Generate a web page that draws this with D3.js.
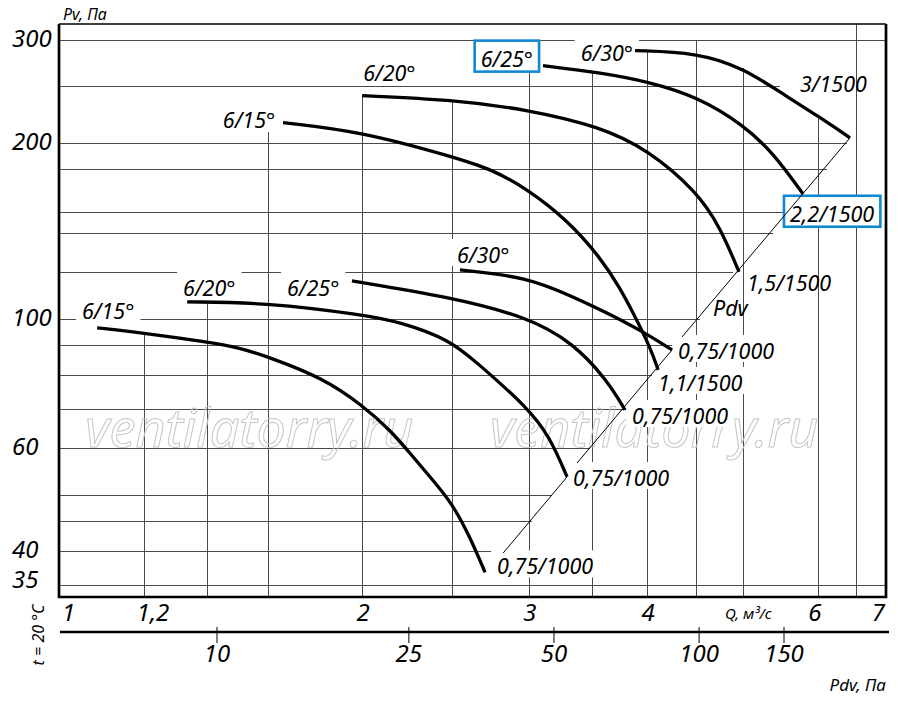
<!DOCTYPE html>
<html>
<head>
<meta charset="utf-8">
<script src="https://cdn.jsdelivr.net/npm/d3@7"></script>
<style>
  html, body { margin: 0; padding: 0; background: #fff; }
  svg text { font-family: "Noto Sans", sans-serif; font-style: italic; fill: #000; }
</style>
</head>
<body>
<div id="chart"></div>
<script>
// axis ticks
const qTicks = [1, 1.2, 2, 3, 4, 6, 7];
const qTickLabels = ["1", "1,2", "2", "3", "4", "6", "7"];
const pvTicks = [300, 200, 100, 60, 40, 35];
const pdvTicks = [10, 25, 50, 100, 150];

// grid: horizontal lines (Pv) and where they stop (Q); vertical lines (Q) and where they start (Pv)
const pvGrid = [300, 250, 200, 180, 152, 140, 120, 100, 90, 80, 70, 60, 50, 45, 40, 35];
const pvGridEnd = [7.15, 5.53, 6.5, 6.19, 5.62, 5.43, 4.93, 4.55, 4.26, 4.05, 3.81, 3.48, 3.17, 3.02, 2.74, 7.15];
const qGrid = [1.177, 1.372, 1.59, 2, 2.49, 3, 3.5, 4, 4.5, 5.05, 6.06, 6.64];
const qGridTop = [94.5, 106.8, 208.7, 240.6, 236.8, 265, 263.4, 287, 300, 268.6, 223, 319];

// fan curves, [Q m3/s, Pv Pa]
const fan1500_15 = [[1.65, 216.3], [2.0, 208.7], [2.489, 189.2], [2.75, 179.7], [2.994, 166.1], [3.292, 147.5], [3.566, 127.5], [3.744, 112.8], [3.865, 102.3], [4.029, 89.4], [4.108, 81.7]];
const fan1500_20 = [[2.0, 240.6], [2.489, 236.8], [2.994, 227.7], [3.566, 212.9], [4.009, 194.4], [4.516, 164.7], [4.775, 143.5], [5.001, 120.2]];
const fan1500_25 = [[3.105, 270.8], [3.566, 263.4], [4.009, 254.2], [4.516, 239.6], [5.05, 214.6], [5.433, 192.2], [5.843, 163.4]];
const fan1500_30 = [[3.884, 287.3], [4.516, 285.0], [5.05, 268.6], [5.62, 239.6], [6.06, 222.0], [6.551, 203.8]];
const fan1000_15 = [[1.05, 96.4], [1.174, 94.5], [1.372, 91.2], [1.486, 89.1], [1.591, 86.0], [1.819, 79.1], [2.0, 71.1], [2.141, 64.5], [2.264, 58.0], [2.376, 52.9], [2.489, 48.3], [2.6, 42.3], [2.697, 36.8]];
const fan1000_20 = [[1.307, 106.8], [1.591, 106.4], [2.0, 101.5], [2.193, 98.7], [2.477, 91.9], [2.645, 84.0], [2.987, 70.6], [3.159, 62.7], [3.292, 53.6]];
const fan1000_25 = [[1.951, 116.0], [2.477, 108.9], [2.987, 100.7], [3.341, 90.9], [3.628, 78.5], [3.79, 69.8]];
const fan1000_30 = [[2.537, 121.1], [2.987, 117.8], [3.341, 108.9], [3.628, 102.3], [3.931, 95.6], [4.25, 88.4]];
const fanCurves = [fan1500_15, fan1500_20, fan1500_25, fan1500_30, fan1000_15, fan1000_20, fan1000_25, fan1000_30];

// dynamic pressure line, drawn in pieces
const pdvSegments = [
  [[6.551, 203.8], [4.354, 93.0]],
  [[4.25, 88.4], [3.373, 56.6]],
  [[3.292, 53.6], [2.818, 39.7]],
];

// curve labels
const labelText = ["6/15°", "6/20°", "6/25°", "6/30°", "3/1500", "2,2/1500", "1,5/1500", "Pdv", "0,75/1000", "1,1/1500", "0,75/1000", "0,75/1000", "0,75/1000", "6/15°", "6/20°", "6/25°", "6/30°"];
const labelQ = [1.619, 2.005, 3.031, 3.865, 5.801, 5.661, 5.099, 4.694, 4.312, 4.108, 3.856, 3.341, 2.777, 1.012, 1.294, 1.666, 2.519];
const labelPv = [212.0, 255.2, 269.7, 276.1, 244.4, 146.4, 111.5, 101.1, 85.3, 75.2, 66.0, 51.7, 36.5, 99.8, 109.4, 109.4, 124.5];
const labelAnchor = ["end", "start", "end", "end", "start", "start", "start", "start", "start", "start", "start", "start", "start", "start", "start", "start", "start"];
const labelKind = ["bg", "bg", "box", "bg", "", "box", "", "", "bg", "bg", "bg", "bg", "bg", "bg", "bg", "bg", "bg"];

// watermark anchors
const watermarkQ = [1.02, 2.73];
const watermarkPv = 60.3;

const width = 900;
const height = 704;
const plot = { left: 59, right: 886, top: 24, bottom: 597 };

const svg = d3.select("#chart").append("svg").attr("width", width).attr("height", height);
svg.append("rect").attr("width", width).attr("height", height).attr("fill", "#fff");

const x = d3.scaleLog().domain([0.957, 7.15]).range([plot.left, plot.right]);
const y = d3.scaleLog().domain([33.4, 319]).range([plot.bottom, plot.top]);
const xPdv = d3.scaleLog().domain([10, 150]).range([217, 784]);

// grid
const grid = svg.append("g").attr("stroke", "#4a4a4a").attr("stroke-width", 1).attr("shape-rendering", "crispEdges");
grid.selectAll("line.h")
  .data(pvGrid)
  .join("line")
  .attr("class", "h")
  .attr("x1", plot.left)
  .attr("x2", (d, i) => Math.min(x(pvGridEnd[i]), plot.right))
  .attr("y1", (d) => Math.round(y(d)) + 0.5)
  .attr("y2", (d) => Math.round(y(d)) + 0.5);
grid.selectAll("line.v")
  .data(qGrid)
  .join("line")
  .attr("class", "v")
  .attr("x1", (d) => Math.round(x(d)) + 0.5)
  .attr("x2", (d) => Math.round(x(d)) + 0.5)
  .attr("y1", plot.bottom)
  .attr("y2", (d, i) => Math.max(y(qGridTop[i]), plot.top));

// watermark
svg.selectAll("text.wm")
  .data(watermarkQ)
  .join("text")
  .attr("class", "wm")
  .attr("x", (d) => x(d))
  .attr("y", y(watermarkPv))
  .attr("font-size", 52)
  .style("fill", "none")
  .attr("stroke", "#c6c6c6")
  .attr("stroke-width", 1)
  .text("ventilatorry.ru");

// frame
svg.append("path")
  .attr("d", `M${plot.left},${plot.top}H${plot.right}`)
  .attr("stroke", "#000").attr("stroke-width", 1.6);
svg.append("path")
  .attr("d", `M${plot.left},${plot.top}V${plot.bottom}H${plot.right}V${plot.top}`)
  .attr("fill", "none").attr("stroke", "#000").attr("stroke-width", 2.7);

// curve labels
const labels = svg.append("g").attr("font-size", 21.5);
labelText.forEach((t, i) => {
  const g = labels.append("g");
  const bgRect = g.append("rect");
  const tx = g.append("text")
    .attr("x", x(labelQ[i]))
    .attr("y", y(labelPv[i]))
    .attr("text-anchor", labelAnchor[i])
    .text(t);
  const bb = tx.node().getBBox();
  const base = y(labelPv[i]);
  if (labelKind[i] === "bg") {
    bgRect.attr("x", bb.x - 6).attr("y", base - 24).attr("width", bb.width + 12).attr("height", 27).attr("fill", "#fff");
  } else if (labelKind[i] === "box") {
    bgRect.attr("x", bb.x - 6).attr("y", base - 26).attr("width", bb.width + 12).attr("height", 31)
      .attr("fill", "#fff").attr("stroke", "#1089d3").attr("stroke-width", 2.6);
  } else {
    bgRect.remove();
  }
});

// Pdv line
const seg = d3.line().x((d) => x(d[0])).y((d) => y(d[1]));
svg.append("g")
  .selectAll("path")
  .data(pdvSegments)
  .join("path")
  .attr("d", seg)
  .attr("fill", "none")
  .attr("stroke", "#000")
  .attr("stroke-width", 1);

// fan curves
const curveLine = d3.line().x((d) => x(d[0])).y((d) => y(d[1])).curve(d3.curveBasis);
svg.append("g")
  .selectAll("path")
  .data(fanCurves)
  .join("path")
  .attr("d", curveLine)
  .attr("fill", "none")
  .attr("stroke", "#000")
  .attr("stroke-width", 3.3);

// Pv axis labels
svg.append("g")
  .attr("font-size", 24)
  .selectAll("text")
  .data(pvTicks)
  .join("text")
  .attr("x", 12)
  .attr("y", (d) => Math.min(y(d) + 7, 588))
  .text((d) => d);

svg.append("text").attr("x", 63).attr("y", 20).attr("font-size", 16).text("Pv, Па");

// Q axis labels
svg.append("g")
  .attr("font-size", 24)
  .selectAll("text")
  .data(qTicks)
  .join("text")
  .attr("x", (d, i) => (i === 0 ? x(d) - 15 : x(d) + 1))
  .attr("y", 621)
  .attr("text-anchor", (d, i) => (i === 0 ? "start" : "middle"))
  .text((d, i) => qTickLabels[i]);

svg.append("text").attr("x", 725).attr("y", 619).attr("font-size", 15).text("Q, м³/с");

// Pdv axis
svg.append("path")
  .attr("d", "M60,632H889")
  .attr("stroke", "#000").attr("stroke-width", 2.7);
svg.append("g")
  .selectAll("line")
  .data(pdvTicks)
  .join("line")
  .attr("x1", (d) => xPdv(d))
  .attr("x2", (d) => xPdv(d))
  .attr("y1", 627)
  .attr("y2", 643)
  .attr("stroke", "#000")
  .attr("stroke-width", 1);
svg.append("g")
  .attr("font-size", 24)
  .selectAll("text")
  .data(pdvTicks)
  .join("text")
  .attr("x", (d) => xPdv(d))
  .attr("y", 662)
  .attr("text-anchor", "middle")
  .text((d) => d);

svg.append("text").attr("x", 886).attr("y", 691).attr("font-size", 17).attr("text-anchor", "end").text("Pdv, Па");

svg.append("text")
  .attr("transform", "translate(44,635) rotate(-90)")
  .attr("font-size", 16)
  .attr("text-anchor", "middle")
  .text("t = 20 °C");
</script>
</body>
</html>
